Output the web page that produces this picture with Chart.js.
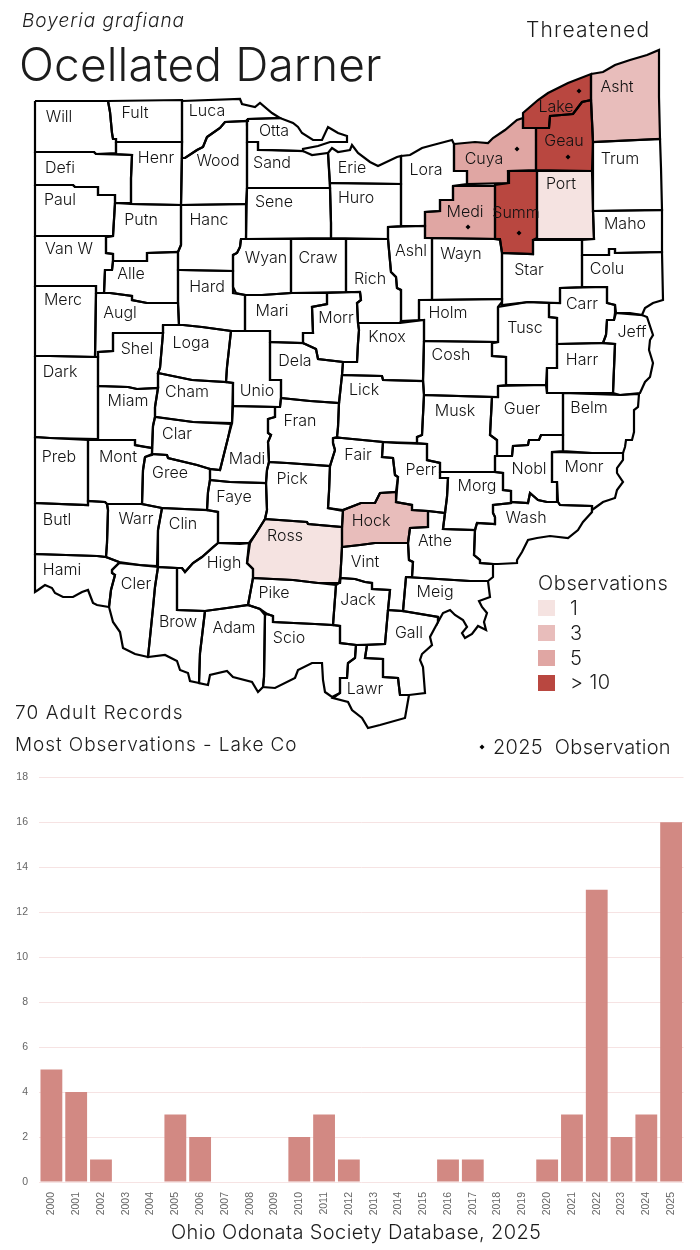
<!DOCTYPE html>
<html>
<head>
<meta charset="utf-8">
<title>Ocellated Darner</title>
<script src="https://cdn.jsdelivr.net/npm/chart.js@4/dist/chart.umd.js"></script>
<style>
  body { margin: 0; background: #fff; width: 700px; height: 1250px; position: relative; overflow: hidden; font-family: Inter, "DejaVu Sans", sans-serif; font-weight: 300; color: #1c1c1c; }
  canvas { position: absolute; left: 0; }
  #map-chart { top: 0; }
  #year-chart { top: 760px; }
  .txt { position: absolute; white-space: nowrap; line-height: 1; }
  .swatch { position: absolute; left: 538px; width: 17px; height: 16px; }
</style>
</head>
<body>
<canvas id="map-chart" width="700" height="760"></canvas>
<canvas id="year-chart" width="700" height="490"></canvas>

<div class="txt" style="left:22px;top:11px;font-size:19px;font-style:italic;letter-spacing:1px">Boyeria grafiana</div>
<div class="txt" style="left:19px;top:41px;font-size:46px;letter-spacing:.15px">Ocellated Darner</div>
<div class="txt" style="left:526px;top:19px;font-size:21px;letter-spacing:1.2px">Threatened</div>
<div class="txt" style="left:538px;top:573px;font-size:20px;letter-spacing:.6px">Observations</div>
<div class="txt" style="left:570px;top:598px;font-size:20px">1</div>
<div class="txt" style="left:570px;top:623px;font-size:20px">3</div>
<div class="txt" style="left:570px;top:648px;font-size:20px">5</div>
<div class="txt" style="left:570px;top:672px;font-size:20px;letter-spacing:.4px">&gt; 10</div>
<div class="swatch" style="top:600px;background:#f5e3e1"></div>
<div class="swatch" style="top:625px;background:#e8bdbb"></div>
<div class="swatch" style="top:650px;background:#e0a6a3"></div>
<div class="swatch" style="top:675px;background:#b94740"></div>
<div class="txt" style="left:15px;top:703px;font-size:19px;letter-spacing:1.1px">70 Adult Records</div>
<div class="txt" style="left:15px;top:735px;font-size:19px;letter-spacing:.92px">Most Observations - Lake Co</div>
<div class="txt" style="left:493px;top:737px;font-size:20px;letter-spacing:.3px">2025&nbsp; Observation</div>
<div class="txt" style="left:171px;top:1222px;font-size:20px;letter-spacing:.4px">Ohio Odonata Society Database, 2025</div>

<script>
// bar chart data
const years = ["2000","2001","2002","2003","2004","2005","2006","2007","2008","2009","2010","2011","2012",
  "2013","2014","2015","2016","2017","2018","2019","2020","2021","2022","2023","2024","2025"];
const yearCounts = [5,4,1,0,0,3,2,0,0,0,2,3,1,0,0,0,1,1,0,0,1,3,13,2,3,16];

// which counties fall in which legend class
const counties1 = ["Port","Ross"];
const counties3 = ["Asht","Hock"];
const counties5 = ["Cuya","Medi"];
const countiesOver10 = ["Lake","Geau","Summ"];

// 2025 observation points, last one is the key marker next to the label
const obsX = [579,517,568,468,519,482];
const obsY = [91,149,157,227,233,747];

// county outlines, x,y pairs
const Will = [35,101,108,101,110,112,112,133,113,139,116,139,116,153,96,154,94,152,35,152];
const Fult = [108,101,182,100,182,142,116,142,116,139,113,139,112,133,110,112];
const Luca = [182,101,240,99,242,104,255,107,260,103,272,113,280,118,248,119,247,121,225,122,220,128,207,137,203,147,197,150,185,158,182,158,182,142];
const Otta = [247,121,248,119,280,118,293,123,298,127,302,133,313,140,322,140,328,127,333,130,338,133,347,136,347,142,330,142,318,146,303,149,303,151,272,150,258,150,258,142,247,142];
const Defi = [35,152,94,152,96,154,132,155,131,178,131,203,115,203,115,195,98,195,98,187,75,187,73,185,35,185];
const Henr = [116,142,182,142,181,205,131,204,131,178,132,155,116,154];
const Wood = [182,158,185,158,197,150,203,147,207,137,220,128,225,122,247,121,247,188,246,204,181,205];
const Sand = [247,142,258,142,258,150,303,151,312,155,328,153,330,188,247,188];
const Erie = [328,153,332,148,338,152,350,150,352,145,358,153,370,162,378,166,397,157,401,156,401,184,330,183];
const Lora = [401,156,410,155,422,148,433,145,452,140,454,144,454,171,467,171,467,184,453,186,453,200,440,200,440,211,425,212,425,226,401,226];
const Cuya = [454,144,475,142,488,143,493,138,505,130,517,120,523,118,523,128,536,128,536,170,508,171,509,183,467,184,467,171,454,171];
const Lake = [523,118,523,113,538,100,548,93,550,92,568,83,591,74,591,100,582,102,573,114,550,116,549,128,523,128];
const Asht = [591,74,603,72,615,65,630,60,647,55,659,50,659,97,660,139,593,142,591,100];
const Geau = [550,116,573,114,582,102,591,100,593,142,592,171,536,170,536,128,549,128];
const Trum = [593,142,660,139,661,168,662,210,593,211];
const Paul = [35,185,73,185,75,187,98,187,98,195,115,195,115,203,113,236,85,236,35,236];
const Putn = [115,203,131,204,181,205,181,245,178,252,147,253,147,261,113,261,113,254,106,253,106,237,113,236];
const Hanc = [181,205,246,204,246,239,241,239,240,247,237,253,233,255,233,271,180,270,178,270,178,252,181,245];
const Sene = [247,188,330,188,331,223,331,238,246,239];
const Huro = [330,183,401,184,401,226,388,227,388,239,331,238,331,223,330,188];
const Port = [537,171,592,171,593,211,594,239,537,239];
const Medi = [453,186,495,186,495,239,425,238,425,212,440,211,440,200,453,200];
const Summ = [508,171,537,171,537,238,533,240,533,254,502,253,500,240,495,239,495,185,509,183];
const Maho = [593,211,662,210,662,252,615,253,615,249,609,249,609,255,582,255,582,240,594,239];
const VanW = [35,236,113,236,106,237,106,253,113,254,113,261,112,270,105,270,104,293,96,293,96,286,35,286];
const Alle = [113,261,147,261,147,253,178,252,178,303,147,303,132,300,132,296,110,293,104,293,105,270,112,270];
const Wyan = [241,239,291,239,291,293,262,295,245,295,236,293,233,287,233,255,237,253,240,247];
const Craw = [291,239,346,239,346,292,291,293];
const Ashl = [388,227,425,226,425,238,432,238,432,300,419,300,419,320,401,321,401,290,397,288,396,277,391,272,388,239];
const Wayn = [432,238,500,239,502,253,502,299,432,300];
const Star = [502,253,533,254,533,240,582,240,582,287,560,288,560,303,528,302,502,305];
const Colu = [582,255,609,255,609,249,615,249,615,253,662,252,663,300,653,303,645,308,642,315,616,313,615,305,607,303,607,287,582,287];
const Merc = [35,286,96,286,96,293,95,357,50,356,35,356];
const Augl = [96,293,104,293,110,293,132,296,132,300,147,303,178,303,179,325,163,325,163,333,113,333,113,351,98,352,98,357,95,357];
const Hard = [180,270,233,271,233,293,245,295,245,331,231,331,202,327,183,325,179,325,178,303,178,270];
const Mari = [245,295,262,295,291,293,327,293,327,304,312,307,313,333,303,333,303,343,270,342,270,331,245,331];
const Rich = [346,239,388,239,391,272,396,277,397,288,401,290,401,321,400,323,358,323,357,303,361,300,360,292,346,292];
const Carr = [560,288,607,287,607,303,615,305,615,313,614,320,607,320,606,335,603,343,557,344,557,318,549,317,549,303,560,303];
const Holm = [419,300,502,299,502,302,498,307,498,342,424,341,424,320,419,320];
const Morr = [327,293,360,292,361,300,357,303,358,323,359,330,358,343,357,362,343,362,318,359,316,349,303,343,303,333,313,333,312,307,327,304];
const Tusc = [498,307,528,302,549,303,549,317,557,318,557,368,547,368,546,385,506,385,506,357,492,356,492,343,498,342];
const Jeff = [616,313,630,313,642,315,647,317,653,335,650,340,649,350,653,363,650,377,645,382,640,393,620,395,613,393,615,344,603,343,606,335,607,320,614,320];
const Shel = [113,333,163,333,160,368,158,373,158,388,137,389,128,387,98,386,98,352,113,351];
const Loga = [163,325,183,325,202,327,231,331,227,367,226,382,192,380,158,373,160,368,163,333];
const Knox = [358,323,400,323,424,320,424,341,423,381,383,380,382,376,342,375,343,362,357,362,358,343,359,330];
const Dela = [270,342,303,343,316,349,318,359,343,362,342,375,339,403,310,401,281,398,281,380,270,380];
const Cosh = [424,341,498,342,492,343,492,356,506,357,506,385,498,386,498,397,424,395,423,380];
const Harr = [557,344,603,343,615,344,613,393,563,393,547,393,547,368,557,368];
const Dark = [35,356,50,356,98,357,98,386,98,439,50,438,35,437];
const Cham = [158,373,192,380,226,382,233,383,232,423,193,422,157,417,155,417,155,407,158,388];
const Unio = [231,331,270,331,270,380,281,380,281,398,280,407,233,406,233,383,226,382,227,367];
const Lick = [342,375,382,376,383,380,423,381,424,395,423,415,422,435,417,437,417,443,383,442,342,438,337,437,338,427,339,403];
const Miam = [98,386,128,387,137,389,158,388,155,407,155,417,153,426,152,448,145,447,135,445,135,440,98,440];
const Fran = [281,398,310,401,339,403,338,427,337,437,333,438,333,443,335,450,330,466,287,463,269,462,268,442,271,435,268,433,268,419,275,417,275,407,280,407];
const Musk = [424,395,492,397,490,435,497,440,497,456,495,456,495,472,440,472,440,463,427,460,427,444,417,443,417,437,422,435,423,415];
const Guer = [498,386,546,385,547,393,563,393,563,435,541,435,539,440,529,440,528,445,513,446,512,456,497,456,497,440,490,435,492,397,498,397];
const Belm = [563,393,620,395,639,394,638,407,634,410,634,432,632,440,626,440,625,447,623,453,592,453,563,451];
const Clar = [155,417,193,422,231,424,228,438,220,470,210,469,197,465,168,458,167,455,152,454,153,426];
const Madi = [233,406,275,407,275,417,268,419,268,433,271,435,268,442,269,462,267,470,266,483,230,482,210,480,210,469,220,470,228,438,232,423];
const Fair = [333,438,342,438,383,442,382,457,393,458,395,475,398,477,396,492,380,493,375,503,361,503,343,510,328,508,329,492,330,466,335,450,333,443];
const Perr = [383,442,397,443,427,444,427,460,440,463,440,478,448,478,447,497,445,513,428,511,412,510,412,505,396,502,398,477,395,475,393,458,382,457];
const Preb = [35,437,50,438,88,440,88,505,35,503];
const Mont = [88,440,135,440,135,445,152,448,152,455,145,457,143,470,142,504,107,504,105,502,88,501];
const Gree = [145,457,152,454,167,455,168,458,197,465,210,469,210,480,208,492,207,510,162,508,142,504,143,470];
const Pick = [269,462,287,463,330,466,329,492,328,508,343,511,342,527,308,524,307,522,265,519,267,510,266,483,267,470];
const Morg = [440,472,495,472,503,473,503,490,511,491,511,503,493,505,493,513,495,517,495,524,477,523,475,530,443,529,445,513,447,497,448,478,440,478];
const Nobl = [495,456,512,456,513,446,528,445,529,440,539,440,541,435,563,435,563,451,552,452,552,482,557,482,557,502,547,502,538,500,530,493,528,503,511,502,511,491,503,490,503,473,495,472];
const Monr = [552,452,592,453,623,453,623,460,617,468,617,473,623,482,617,490,615,498,603,502,592,510,592,506,560,505,558,502,557,482,552,482];
const Faye = [210,480,230,482,266,483,267,510,265,519,255,535,250,543,240,544,218,543,218,512,207,510,208,492];
const Butl = [35,503,88,505,88,501,105,502,107,504,108,510,107,543,106,557,97,556,35,554];
const Warr = [107,504,142,504,162,508,158,530,157,566,140,565,119,562,106,557,107,543,108,510];
const Clin = [162,508,207,510,218,512,218,543,202,557,193,563,185,572,182,568,177,568,158,567,158,530];
const Hock = [343,510,361,503,375,503,380,493,396,492,396,502,412,505,412,510,428,511,428,527,410,528,408,543,375,543,360,545,342,547,342,527];
const Wash = [477,523,495,524,495,517,493,513,493,505,511,503,511,502,528,503,530,493,538,500,547,502,558,502,560,505,592,506,592,512,583,522,578,530,568,538,550,536,537,538,528,540,522,552,517,560,517,563,498,564,493,564,480,563,480,560,474,555,475,530];
const Athe = [428,511,445,513,443,529,475,530,474,555,480,560,480,563,493,564,493,577,488,581,470,581,406,577,412,577,413,562,409,560,408,543,410,528,428,527];
const Ross = [265,519,307,522,308,524,342,527,342,547,340,583,318,583,293,580,253,578,253,569,247,563,249,543,255,535];
const Vint = [342,547,360,545,375,543,408,543,409,560,413,562,412,577,406,577,403,611,388,610,390,590,372,589,372,583,365,582,355,579,340,578,340,583];
const High = [177,568,182,568,185,572,193,563,202,557,213,547,218,543,250,543,247,563,253,569,253,578,248,605,227,608,205,611,177,610];
const Hami = [35,554,97,556,106,557,119,562,119,563,112,570,112,573,115,575,111,590,109,607,97,605,93,603,88,590,82,592,73,597,63,597,55,593,52,588,45,585,38,590,35,592];
const Cler = [119,563,158,567,155,587,153,608,148,657,135,654,123,648,120,632,113,622,109,607,111,590,115,575,112,573,112,570];
const Pike = [253,578,293,580,318,583,336,585,333,625,315,624,273,622,273,616,267,614,260,609,248,605];
const Jack = [340,578,355,579,365,582,372,583,372,589,390,590,388,610,385,644,356,645,340,643,340,626,333,625,336,585,339,583];
const Meig = [406,577,470,581,488,581,490,597,479,601,482,607,487,613,484,622,486,630,478,626,472,634,465,638,462,633,467,627,463,620,455,615,450,610,443,613,438,622,438,617,403,611];
const Scio = [265,615,267,614,273,616,273,622,315,624,333,625,340,626,340,643,356,645,355,658,348,663,347,678,340,678,340,693,332,697,325,692,323,680,322,663,312,663,298,670,295,678,275,688,263,687,264,677];
const Brow = [158,567,177,568,177,610,205,611,200,653,199,683,190,681,188,673,180,670,177,661,165,655,148,657,153,608,155,587];
const Adam = [205,611,227,608,248,605,260,609,265,615,264,677,263,687,258,692,252,682,233,677,227,671,210,675,208,685,199,683,200,653];
const Gall = [388,610,403,611,438,617,438,622,430,637,432,645,422,654,420,660,423,667,425,693,409,695,400,695,398,678,383,677,383,659,365,658,367,645,385,644];
const Lawr = [356,645,367,645,365,658,383,659,383,677,398,678,400,695,409,695,405,718,380,725,368,728,362,718,352,710,348,702,333,698,340,693,340,678,347,678,348,663,355,658];

const countyOutlines = [Will,Fult,Luca,Otta,Defi,Henr,Wood,Sand,Erie,Lora,Cuya,Lake,Asht,Geau,Trum,Paul,Putn,Hanc,Sene,Huro,Port,Medi,Summ,Maho,VanW,Alle,Wyan,Craw,Ashl,Wayn,Star,Colu,Merc,Augl,Hard,Mari,Rich,Carr,Holm,Morr,Tusc,Jeff,Shel,Loga,Knox,Dela,Cosh,Harr,Dark,Cham,Unio,Lick,Miam,Fran,Musk,Guer,Belm,Clar,Madi,Fair,Perr,Preb,Mont,Gree,Pick,Morg,Nobl,Monr,Faye,Butl,Warr,Clin,Hock,Wash,Athe,Ross,Vint,High,Hami,Cler,Pike,Jack,Meig,Scio,Brow,Adam,Gall,Lawr];
const countyNames = ["Will","Fult","Luca","Otta","Defi","Henr","Wood","Sand","Erie","Lora","Cuya","Lake","Asht","Geau","Trum","Paul","Putn","Hanc","Sene","Huro","Port","Medi","Summ","Maho","Van W","Alle","Wyan","Craw","Ashl","Wayn","Star","Colu","Merc","Augl","Hard","Mari","Rich","Carr","Holm","Morr","Tusc","Jeff","Shel","Loga","Knox","Dela","Cosh","Harr","Dark","Cham","Unio","Lick","Miam","Fran","Musk","Guer","Belm","Clar","Madi","Fair","Perr","Preb","Mont","Gree","Pick","Morg","Nobl","Monr","Faye","Butl","Warr","Clin","Hock","Wash","Athe","Ross","Vint","High","Hami","Cler","Pike","Jack","Meig","Scio","Brow","Adam","Gall","Lawr"];
const labelX = [59,135,207,274,60,156,218,272,352,426,484,556,617,564,620,60,141,209,274,356,561,465,516,625,69,131,266,318,411,461,529,607,63,120,207,272,370,582,448,336,525,632,137,191,387,295,451,582,60,187,257,364,128,300,455,522,589,177,247,358,421,59,118,170,292,477,529,584,234,57,136,183,371,526,435,285,365,224,62,136,274,358,435,289,178,234,409,365];
const labelY = [117,113,111,131,168,158,161,163,168,170,159,107,87,141,159,200,220,220,202,198,184,212,213,224,249,274,258,258,251,254,270,269,300,313,287,311,279,304,313,318,328,332,349,343,337,361,355,360,372,392,391,390,401,421,411,409,408,434,459,455,470,457,457,473,479,486,469,467,497,520,519,524,521,518,541,536,562,563,570,584,593,600,592,638,622,628,633,689];

function fillFor(name) {
  if (countiesOver10.includes(name)) return "#b94740";
  if (counties5.includes(name)) return "#e0a6a3";
  if (counties3.includes(name)) return "#e8bdbb";
  if (counties1.includes(name)) return "#f5e3e1";
  return "#ffffff";
}

function toPoints(flat) {
  const pts = [];
  for (let i = 0; i < flat.length; i += 2) pts.push({ x: flat[i], y: flat[i + 1] });
  pts.push({ x: flat[0], y: flat[1] });
  return pts;
}

const countyDatasets = countyOutlines.map((outline, i) => ({
  label: countyNames[i],
  data: toPoints(outline),
  showLine: true,
  fill: "shape",
  backgroundColor: fillFor(countyNames[i]),
  borderColor: "#000000",
  borderWidth: 2.2,
  pointRadius: 0,
  tension: 0,
}));

const countyLabels = {
  id: "countyLabels",
  afterDatasetsDraw(chart) {
    const { ctx, scales } = chart;
    ctx.save();
    ctx.font = "300 16px Inter, 'DejaVu Sans', sans-serif";
    ctx.fillStyle = "#111111";
    ctx.textAlign = "center";
    ctx.textBaseline = "middle";
    countyNames.forEach((name, i) => {
      ctx.fillText(name, scales.x.getPixelForValue(labelX[i]), scales.y.getPixelForValue(labelY[i]));
    });
    ctx.restore();
  },
};

new Chart(document.getElementById("map-chart"), {
  type: "scatter",
  data: {
    datasets: [
      ...countyDatasets,
      {
        label: "2025 Observation",
        data: obsX.map((x, i) => ({ x, y: obsY[i] })),
        pointStyle: "rectRot",
        pointRadius: 2.5,
        backgroundColor: "#000000",
        borderWidth: 0,
      },
    ],
  },
  options: {
    responsive: false,
    animation: false,
    layout: { padding: 0, autoPadding: false },
    plugins: { legend: { display: false }, tooltip: { enabled: false }, filler: { drawTime: "beforeDatasetsDraw" } },
    scales: {
      x: { type: "linear", display: false, min: 0, max: 700 },
      y: { type: "linear", display: false, min: 0, max: 760, reverse: true },
    },
  },
  plugins: [countyLabels],
});

new Chart(document.getElementById("year-chart"), {
  type: "bar",
  data: {
    labels: years,
    datasets: [{
      data: yearCounts,
      backgroundColor: "#d28983",
      barPercentage: 0.88,
      categoryPercentage: 1,
    }],
  },
  options: {
    responsive: false,
    animation: false,
    layout: { padding: { top: 16.5, right: 16.5, left: 0, bottom: 0 } },
    plugins: { legend: { display: false }, tooltip: { enabled: false } },
    scales: {
      x: {
        grid: { display: false },
        border: { display: false },
        ticks: { color: "#666666", font: { family: "'Liberation Sans', Arial", size: 10.5 }, minRotation: 90, maxRotation: 90, padding: 2, autoSkip: false },
        afterFit(scale) { scale.height = 68; },
      },
      y: {
        min: 0,
        max: 18,
        grid: { color: "#f6e3e3", lineWidth: 1, drawTicks: false },
        border: { display: false },
        ticks: { stepSize: 2, color: "#666666", font: { family: "'Liberation Sans', Arial", size: 10.5 }, padding: 11 },
        afterFit(scale) { scale.width = 39; },
      },
    },
  },
});
</script>
</body>
</html>
